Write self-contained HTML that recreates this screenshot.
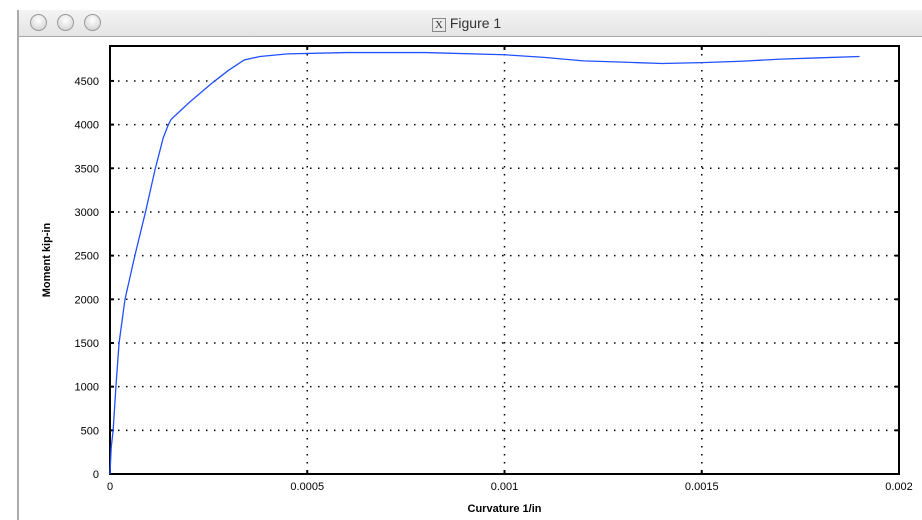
<!DOCTYPE html>
<html><head><meta charset="utf-8"><style>
body{margin:0;background:#fff;width:922px;height:520px;overflow:hidden;font-family:"Liberation Sans",sans-serif}
#win{position:absolute;left:17px;top:10px;width:905px;height:510px;border-left:2px solid #aaa;background:#fff}
#bar{position:absolute;left:0;top:0;right:0;height:26px;background:linear-gradient(#f4f4f4,#e4e4e4);border-bottom:1px solid #aaa}
.btn{position:absolute;top:4px;width:15px;height:15px;border-radius:50%;border:1px solid #999;background:radial-gradient(circle at 50% 35%,#fff,#ccc)}
</style></head><body>
<div id="win">
<div id="bar">
<div class="btn" style="left:11px"></div>
<div class="btn" style="left:38px"></div>
<div class="btn" style="left:65px"></div>
<div style="position:absolute;left:413px;top:5px;font-size:14px;color:#333"><span style="border:1px solid #888;font-size:11px;padding:0 2px;font-family:'Liberation Serif',serif">X</span> Figure 1</div>
</div></div>
<svg id="chart" width="922" height="520" style="position:absolute;left:0;top:0"></svg>
<script>
const xTicks=[0,0.0005,0.001,0.0015,0.002];
const xTickLabels=["0","0.0005","0.001","0.0015","0.002"];
const yTicks=[0,500,1000,1500,2000,2500,3000,3500,4000,4500];
const curvature=[0,0.000003,0.000008,0.000015,0.000023,0.000038,0.000063,0.00009,0.000115,0.000135,0.000148,0.000155,0.0002,0.00026,0.0003,0.00034,0.00038,0.00045,0.0006,0.0008,0.001,0.0011,0.0012,0.0013,0.0014,0.0015,0.0016,0.0017,0.0018,0.0019];
const moment=[0,300,500,1000,1500,2000,2500,3000,3500,3850,4000,4060,4250,4480,4620,4740,4780,4810,4825,4825,4800,4770,4730,4715,4700,4710,4725,4750,4765,4780];
const L=110,R=899,T=46,B=474,XMAX=0.002,YMAX=4900;
const sx=v=>L+v/XMAX*(R-L), sy=v=>B-v/YMAX*(B-T);
const svg=document.getElementById('chart'),NS='http://www.w3.org/2000/svg';
function mk(t,a,p){const e=document.createElementNS(NS,t);for(const k in a)e.setAttribute(k,a[k]);(p||svg).appendChild(e);return e;}
xTicks.forEach((v,i)=>{const x=sx(v);
 if(i>0&&i<xTicks.length-1){const g=mk('line',{x1:x,y1:T,x2:x,y2:B,stroke:'#000','stroke-width':1.5,'stroke-dasharray':'1.5 6.5'});
 
 }
 const t=mk('text',{x:x,y:B+16,'text-anchor':'middle','font-size':11,fill:'#000'});t.textContent=xTickLabels[i];
 
 
 mk('line',{x1:x,y1:B,x2:x,y2:B-4,stroke:'#000','stroke-width':2});mk('line',{x1:x,y1:T,x2:x,y2:T+4,stroke:'#000','stroke-width':2});});
yTicks.forEach(v=>{const y=sy(v);
 if(v>0){const g=mk('line',{x1:L,y1:y,x2:R,y2:y,stroke:'#000','stroke-width':1.5,'stroke-dasharray':'1.5 6.5'});
 
 }
 const t=mk('text',{x:L-11,y:y+4,'text-anchor':'end','font-size':11,fill:'#000'});t.textContent=v;
 
 
 mk('line',{x1:L,y1:y,x2:L+4,y2:y,stroke:'#000','stroke-width':2});mk('line',{x1:R,y1:y,x2:R-4,y2:y,stroke:'#000','stroke-width':2});});
const fr=mk('rect',{x:L,y:T,width:R-L,height:B-T,fill:'none',stroke:'#000','stroke-width':2});


const pl=mk('polyline',{points:curvature.map((c,i)=>sx(c)+','+sy(moment[i])).join(' '),fill:'none',stroke:'#2050ff','stroke-width':1.3});


const xl=mk('text',{x:(L+R)/2,y:512,'text-anchor':'middle','font-size':11,'font-weight':'bold'});xl.textContent='Curvature 1/in';


const yl=mk('text',{x:0,y:0,'text-anchor':'middle','font-size':11,'font-weight':'bold',transform:'translate(50,'+(T+B)/2+') rotate(-90)'});yl.textContent='Moment kip-in';


</script>
</body></html>
